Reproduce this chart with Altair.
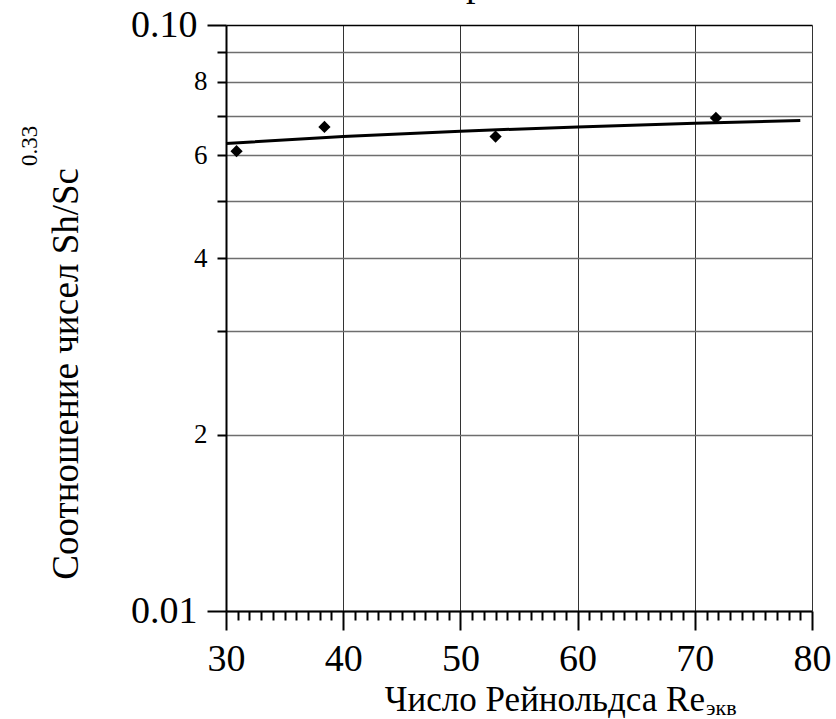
import altair as alt
import pandas as pd

# ---- data ----
re_points = [30.9, 38.4, 53.0, 71.8]
sh_points = [0.0609, 0.0670, 0.0645, 0.0694]

re_fit = [30, 40, 50, 60, 70, 79]
sh_fit = [0.0628, 0.0645, 0.0659, 0.0670, 0.0680, 0.0687]

y_tick_values = [0.01, 0.02, 0.03, 0.04, 0.05, 0.06, 0.07, 0.08, 0.09, 0.1]
y_tick_labels = ["0.01", "2", "", "4", "", "6", "", "8", "", "0.10"]
x_tick_values = list(range(30, 81))
x_major_values = [30, 40, 50, 60, 70, 80]

x_title_main = "Число Рейнольдса Re"
x_title_sub = "экв"
y_title_main = "Соотношение чисел Sh/Sc"
y_title_sup = "0.33"
top_fragment = "р"

FONT = "Liberation Serif"

pts = pd.DataFrame({"re": re_points, "sh": sh_points})
fit = pd.DataFrame({"re": re_fit, "sh": sh_fit})

# label expressions built from the tick lists
expr = "''"
for v, lab in reversed(list(zip(y_tick_values, y_tick_labels))):
    expr = f"abs(datum.value - {v}) < 1e-6 ? '{lab}' : ({expr})"
y_major_test = "datum.value < 0.015 || datum.value > 0.095"
x_major_test = "indexof([" + ",".join(str(v) for v in x_major_values) + "], datum.value) >= 0"

x_scale = alt.Scale(domain=[30, 80], nice=False, zero=False)
y_scale = alt.Scale(type="log", domain=[0.01, 0.1], nice=False)

x_axis = alt.Axis(
    values=x_tick_values,
    tickCount=100,
    labelOverlap=False,
    labelFlush=False,
    labelExpr=f"{x_major_test} ? format(datum.value, 'd') : ''",
    labelFont=FONT, labelFontSize=38, labelColor="black",
    labelPadding=10,
    tickSize={"condition": {"test": x_major_test, "value": 19}, "value": 9},
    tickColor="black", tickWidth=2,
    domainColor="black", domainWidth=2,
    grid=True,
    gridColor="#333333", gridWidth=1,
    gridOpacity={"condition": {"test": x_major_test, "value": 1}, "value": 0},
    title="",
)
y_axis = alt.Axis(
    values=y_tick_values,
    tickCount=100,
    labelOverlap=False,
    labelFlush=False,
    labelExpr=expr,
    labelFont=FONT, labelColor="black",
    labelFontSize={"condition": {"test": y_major_test, "value": 38}, "value": 27},
    labelPadding=10,
    tickSize={"condition": {"test": y_major_test, "value": 19}, "value": 9},
    tickColor="black", tickWidth=2,
    domainColor="black", domainWidth=2,
    grid=True,
    gridColor={"condition": {"test": "datum.value > 0.095", "value": "black"}, "value": "#6e6e6e"},
    gridWidth=1.5,
    title="",
)

line = alt.Chart(fit).mark_line(color="black", strokeWidth=3).encode(
    x=alt.X("re:Q", scale=x_scale, axis=x_axis),
    y=alt.Y("sh:Q", scale=y_scale, axis=y_axis),
)

points = alt.Chart(pts).mark_point(shape="diamond", filled=True, color="black", size=150, opacity=1).encode(
    x=alt.X("re:Q", scale=x_scale),
    y=alt.Y("sh:Q", scale=y_scale),
)

def text_layer(text, x, y, size, align, angle=None):
    kw = dict(font=FONT, fontSize=size, color="black", align=align, baseline="alphabetic")
    if angle is not None:
        kw["angle"] = angle
    return alt.Chart(pd.DataFrame({"t": [text]})).mark_text(**kw).encode(
        text="t:N", x=alt.value(x), y=alt.value(y)
    )

xt_main = text_layer(x_title_main, 479, 686, 35, "right")
xt_sub = text_layer(x_title_sub, 480, 690, 22, "left")
yt_main = text_layer(y_title_main, -148, 143, 37, "right", 270)
yt_sup = text_layer(y_title_sup, -189, 141, 23, "left", 270)
top = text_layer(top_fragment, 240, -29, 38, "left")

chart = alt.layer(line, points, xt_main, xt_sub, yt_main, yt_sup, top).properties(
    width=586, height=586,
    padding={"left": 226, "top": 25, "right": 24, "bottom": 108},
    autosize=alt.AutoSizeParams(type="none"),
    background="white",
).configure(font=FONT).configure_view(stroke=None)

chart.save("out.html", embed_options={"renderer": "svg", "actions": False})
